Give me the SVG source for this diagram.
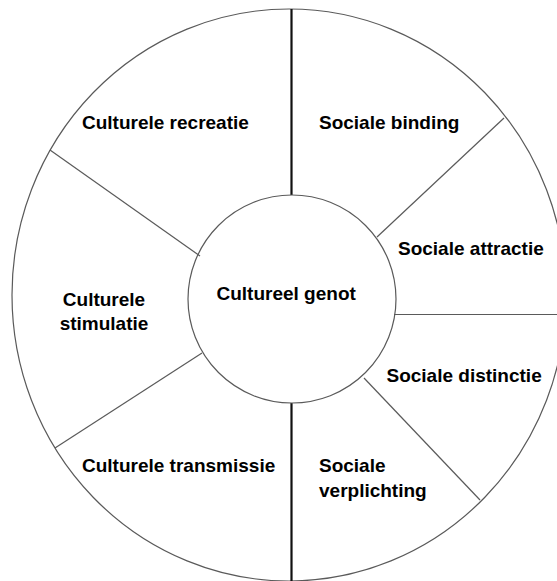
<svg xmlns="http://www.w3.org/2000/svg" width="557" height="581" viewBox="0 0 557 581">
<style>
.thin{stroke:#5a5a5a;stroke-width:1.2;fill:none}
.thick{stroke:#111;stroke-width:2.2;fill:none}
.lbl{font-family:"Liberation Sans",Arial,sans-serif;font-weight:bold;font-size:19px;fill:#000}
</style>
<rect width="557" height="581" fill="#fff"/>
<g id="outer"><ellipse class="thin" cx="289" cy="295" rx="277" ry="286"/></g>
<g id="connectors">
<line class="thick" x1="291.5" y1="9" x2="291.5" y2="195"/>
<line class="thick" x1="291.5" y1="403" x2="291.5" y2="581"/>
<line class="thin" x1="50" y1="150" x2="200" y2="256"/>
<line class="thin" x1="504" y1="118" x2="377" y2="237"/>
<line class="thin" x1="394" y1="314.5" x2="557" y2="314.5"/>
<line class="thin" x1="364" y1="378" x2="480" y2="500"/>
<line class="thin" x1="55" y1="448" x2="202" y2="353"/>
</g>
<g id="center"><circle class="thin" cx="292" cy="299" r="104" fill="#fff"/><text class="lbl" x="216.5" y="300">Cultureel genot</text></g>
<g id="recreatie"><text class="lbl" x="82" y="128.5">Culturele recreatie</text></g>
<g id="binding"><text class="lbl" x="319" y="129">Sociale binding</text></g>
<g id="attractie"><text class="lbl" x="398" y="255">Sociale attractie</text></g>
<g id="distinctie"><text class="lbl" x="386.5" y="382">Sociale distinctie</text></g>
<g id="verplichting"><text class="lbl" x="319" y="472">Sociale</text><text class="lbl" x="319" y="496.5">verplichting</text></g>
<g id="transmissie"><text class="lbl" x="82" y="472">Culturele transmissie</text></g>
<g id="stimulatie"><text class="lbl" x="104" y="306" text-anchor="middle">Culturele</text><text class="lbl" x="104" y="330" text-anchor="middle">stimulatie</text></g>
</svg>
